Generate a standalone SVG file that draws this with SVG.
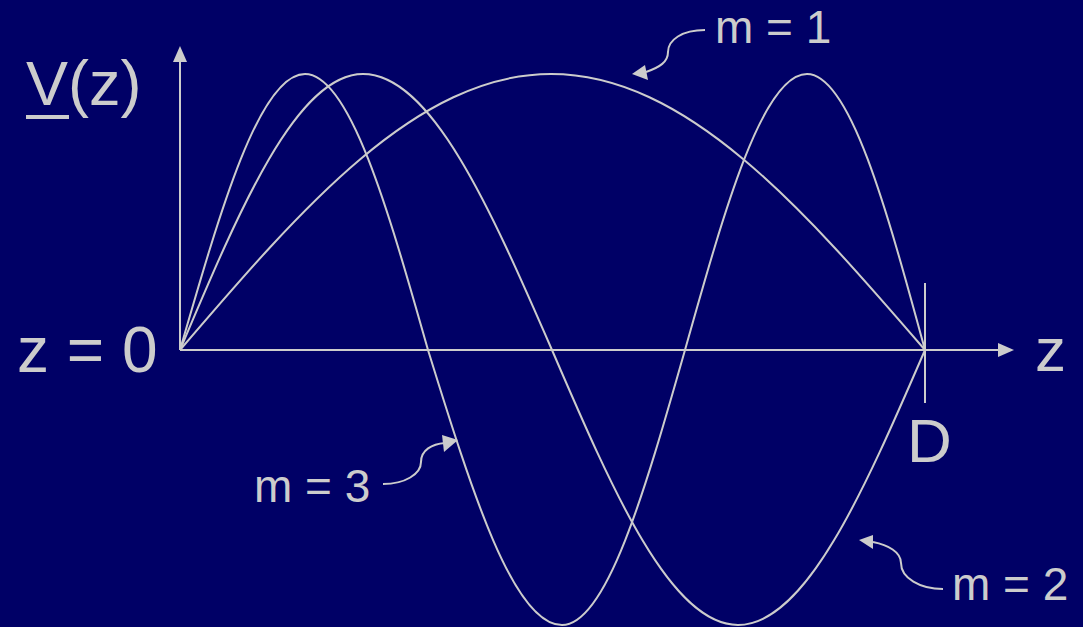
<svg xmlns="http://www.w3.org/2000/svg" width="1083" height="627" viewBox="0 0 1083 627">
<style>
.ln{fill:none;stroke:#cccccc;stroke-width:2}
.ah{fill:#cccccc;stroke:none}
.big{font-family:"Liberation Sans",Arial,sans-serif;font-size:62px;fill:#cccccc}
.lbl{font-family:"Liberation Sans",Arial,sans-serif;font-size:46px;fill:#cccccc}
</style>
<rect x="0" y="0" width="1083" height="627" fill="#000066"/>
<g id="axes">
<line class="ln" x1="180" y1="350" x2="180" y2="60"/>
<polygon class="ah" points="180,46 173,62 187,62"/>
<line class="ln" x1="180" y1="350" x2="1000" y2="350"/>
<polygon class="ah" points="1014,350 998,343 998,357"/>
<line class="ln" x1="925" y1="283" x2="925" y2="403"/>
</g>
<g id="mode1">
<path class="ln" d="M180,350 C301,208.6 416.7,74 551,74 C686.4,74 803,208.6 925,350"/>
</g>
<g id="mode2">
<path class="ln" d="M180,350 C239.7,208.6 296.8,74 363,74 C431.4,74 490.4,208.6 552,350 C612.7,490.9 670.7,625 738,625 C805.7,625 864,490.9 925,350"/>
</g>
<g id="mode3">
<path class="ln" d="M180,350 C220.8,208.6 259.8,74 305,74 C349.5,74 387.9,208.6 428,350 C471.7,490.9 513.5,625 562,625 C606.5,625 644.9,490.9 685,350 C724.8,208.6 762.8,74 807,74 C849.7,74 886.5,208.6 925,350"/>
</g>
<g id="labels">
<text class="big" x="26" y="105" style="font-size:63px">V(z)</text>
<line x1="26" y1="117" x2="69" y2="117" stroke="#cccccc" stroke-width="4"/>
<text class="big" x="17" y="372" style="font-size:64px">z = 0</text>
<text class="big" x="1035" y="371">z</text>
<text class="big" x="907" y="462">D</text>
<text class="lbl" x="715" y="43">m = 1</text>
<text class="lbl" x="254" y="502">m = 3</text>
<text class="lbl" x="952" y="600">m = 2</text>
</g>
<g id="connectors">
<path class="ln" d="M705,30 C682,30 668,40 668,52 C668,62 660,67 646,72"/>
<polygon class="ah" points="632,74 645,65 648,80"/>
<path class="ln" d="M383,484 C405,484 421,474 421,462 C421,450 432,444 445,443"/>
<polygon class="ah" points="458,440 442,435 444,452"/>
<path class="ln" d="M943,589 C920,589 901,578 901,563 C901,552 888,545 873,542"/>
<polygon class="ah" points="859,540 873,535 873,549"/>
</g>
</svg>
